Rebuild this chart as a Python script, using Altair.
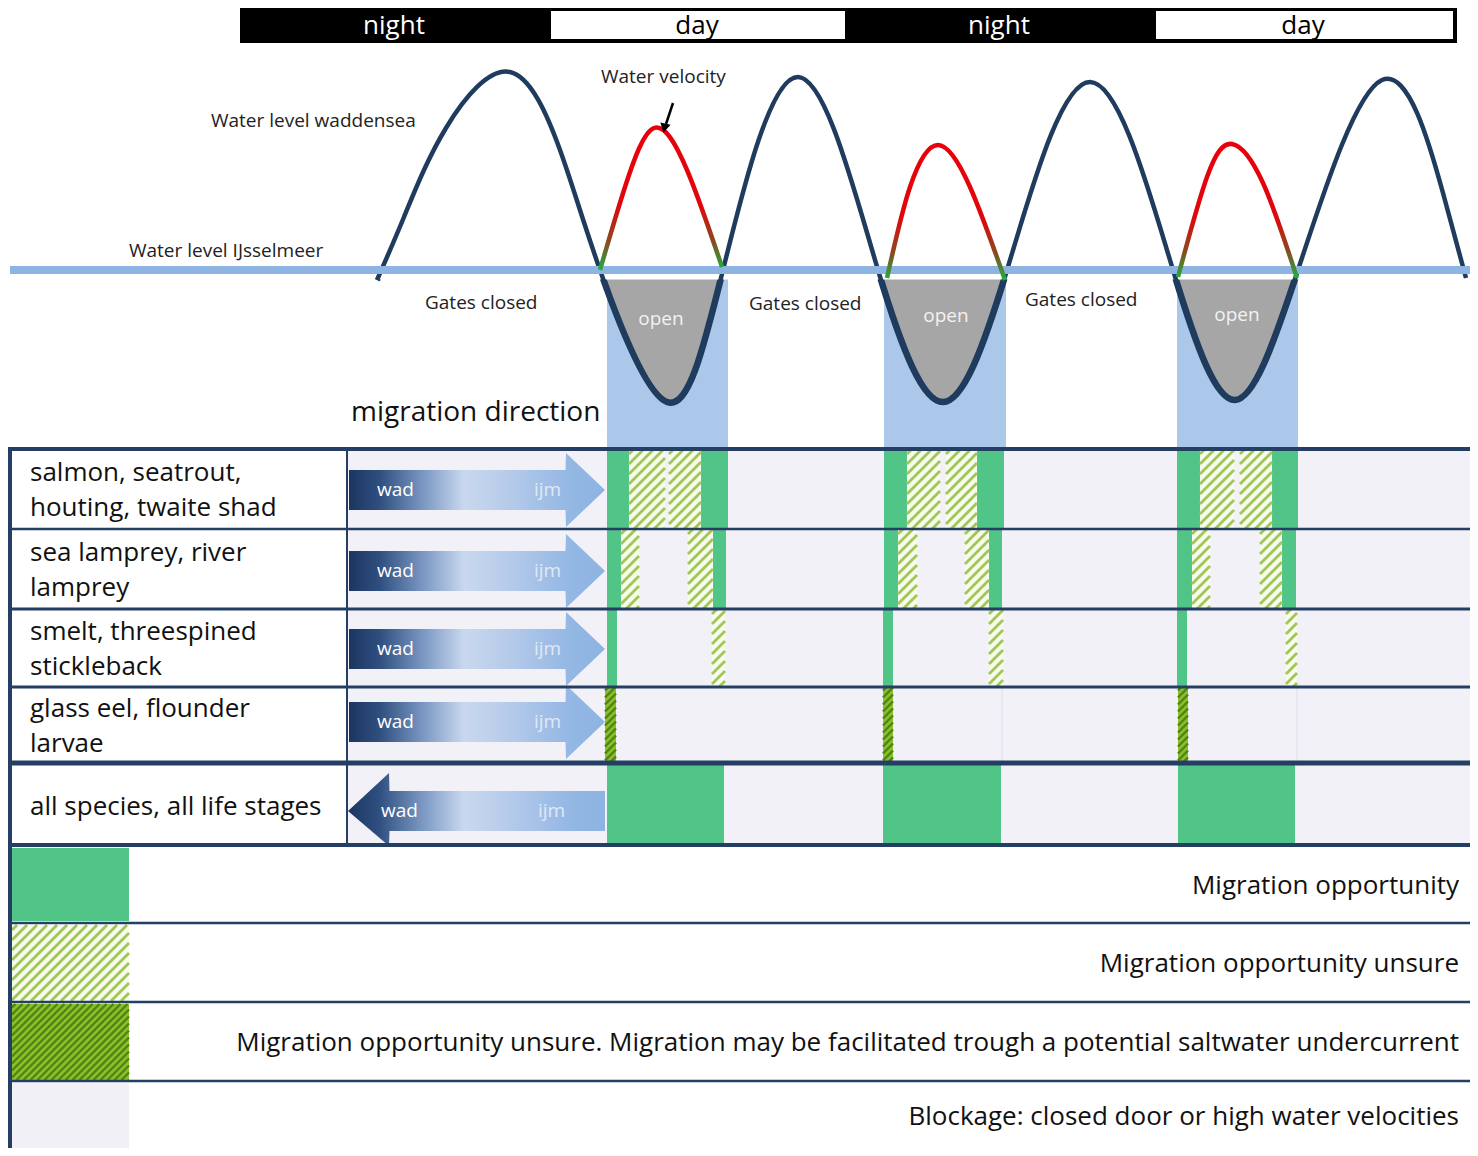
import altair as alt
import pandas as pd

# ---------------- chart values ----------------
PERIOD_NAMES = ["night", "day", "night", "day"]
PERIOD_START = [240, 549, 848, 1154]
PERIOD_END = [549, 848, 1154, 1456]
PERIOD_TEXT_X = [394, 697, 999, 1303]

# water level Waddensea: crossings of the IJsselmeer level and extremes (x, y) in picture units
WADDEN = [(377, 280), (404, 217), (446, 128), (510, 72), (560, 150), (600, 270),
          (667, 402), (723, 270), (798, 77), (878, 270),
          (943, 402), (1007, 270), (1090, 82), (1173, 270),
          (1235, 400), (1298, 270), (1382, 80), (1443, 193), (1466, 278)]
IJSSELMEER_LEVEL = 270

# water velocity arcs while the gates are open
VELOCITY_1 = [(600, 270), (625, 187), (654, 128), (687, 170), (722, 267)]
VELOCITY_2 = [(887, 278), (910, 187), (938, 145), (970, 187), (1005, 280)]
VELOCITY_3 = [(1178, 277), (1207, 177), (1232, 144), (1263, 183), (1297, 278)]

# gate-open windows (blue columns)
COLUMN_START = [607, 884, 1177]
COLUMN_END = [728, 1006, 1298]
OPEN_LABEL_X = [661, 946, 1237]
OPEN_LABEL_Y = [319, 316, 315]

GATES_CLOSED_X = [425, 749, 1025]
GATES_CLOSED_Y = [303, 304, 300]

# table rows
ROW_LABELS = [["salmon, seatrout,", "houting, twaite shad"],
              ["sea lamprey, river", "lamprey"],
              ["smelt, threespined", "stickleback"],
              ["glass eel, flounder", "larvae"],
              ["all species, all life stages"]]
ROW_TOP = [449, 529, 609, 687, 763]
ROW_BOTTOM = [529, 609, 687, 763, 845]
ARROW_DIRECTION = ["right", "right", "right", "right", "left"]
ARROW_CENTER = [490, 571, 649, 722, 811]

# migration cells: (row, start, end, kind)
CELL_ROW = [0, 0, 0, 0, 0, 0, 0, 0, 0, 0, 0, 0,
            1, 1, 1, 1, 1, 1, 1, 1, 1, 1, 1, 1,
            2, 2, 2, 2, 2, 2,
            3, 3, 3,
            4, 4, 4]
CELL_START = [607, 629, 669, 701, 884, 907, 946, 977, 1177, 1200, 1240, 1272,
              607, 621, 688, 713, 884, 898, 965, 989, 1177, 1192, 1260, 1282,
              607, 712, 883, 989, 1177, 1286,
              605, 883, 1178,
              607, 883, 1178]
CELL_END = [629, 665, 701, 728, 907, 940, 977, 1004, 1200, 1234, 1272, 1298,
            621, 639, 713, 726, 898, 917, 989, 1002, 1192, 1210, 1282, 1296,
            617, 725, 893, 1003, 1187, 1297,
            616, 893, 1188,
            724, 1001, 1295]
CELL_KIND = ["open", "unsure", "unsure", "open"] * 3 + \
            ["open", "unsure", "unsure", "open"] * 3 + \
            ["open", "unsure"] * 3 + \
            ["undercurrent"] * 3 + \
            ["open"] * 3

# legend
LEGEND_KIND = ["open", "unsure", "undercurrent", "blocked"]
LEGEND_TEXT = ["Migration opportunity",
               "Migration opportunity unsure",
               "Migration opportunity unsure. Migration may be facilitated trough a potential  saltwater undercurrent",
               "Blockage: closed door or high water velocities"]
LEGEND_TOP = [848, 925, 1004, 1083]
LEGEND_BOTTOM = [921, 1001, 1080, 1148]

# ---------------- styling ----------------
NAVY = "#1f3b5e"
GRID = "#243f63"
GREEN = "#50c587"
LAVENDER = "#f2f1f7"
FONT = "Open Sans"
CURVE = "natural"

X0, X1, Y0, Y1 = 8, 1470, 8, 1148
xs = alt.Scale(domain=[X0, X1], nice=False, zero=False)
ys = alt.Scale(domain=[Y0, Y1], nice=False, zero=False, reverse=True)


def X(f="x"):
    return alt.X(f"{f}:Q", scale=xs, axis=None)


def Y(f="y"):
    return alt.Y(f"{f}:Q", scale=ys, axis=None, stack=False)


def rects(df):
    return alt.Chart(df).mark_rect().encode(
        x=X("x"), x2="x2:Q", y=Y("y"), y2="y2:Q",
        color=alt.Color("c:N", scale=None))


def rules(df):
    return alt.Chart(df).mark_rule(strokeCap="butt").encode(
        x=X("x"), x2="x2:Q", y=Y("y"), y2="y2:Q",
        color=alt.Color("c:N", scale=None),
        strokeWidth=alt.StrokeWidth("w:Q", scale=None))


def texts(df, align="left"):
    return alt.Chart(df).mark_text(align=align, baseline="middle", font=FONT).encode(
        x=X("x"), y=Y("y"), text="t:N",
        size=alt.Size("s:Q", scale=None),
        color=alt.Color("c:N", scale=None))


def hatch(boxes, step, color, width):
    segs = []
    for (x0, x1, y0, y1) in boxes:
        c = x0 + y0 + step / 2.0
        while c < x1 + y1:
            xa = max(x0, c - y1)
            xb = min(x1, c - y0)
            if xb > xa:
                segs.append(dict(x=xa, y=c - xa, x2=xb, y2=c - xb, c=color, w=width))
            c += step
    return pd.DataFrame(segs)


HATCH_STYLE = {
    "unsure": dict(bg="#f8fbec", line="#9fc75a", step=10, width=2.8),
    "undercurrent": dict(bg="#8cc026", line="#4f8419", step=7, width=2.4),
}

wad_df = pd.DataFrame(WADDEN, columns=["x", "y"])
wad_df["y2"] = 279

layers = []

# ---- blue columns below the gates ----
layers.append(rects(pd.DataFrame([dict(x=s, x2=e, y=279, y2=449, c="#abc8ea")
                                  for s, e in zip(COLUMN_START, COLUMN_END)])))

# ---- grey 'open' troughs: fill between curve and the line, thick outline below the line ----
layers.append(alt.Chart(wad_df).mark_area(
    orient="vertical", interpolate=CURVE, color="#a6a6a6").encode(
    x=X("x"), y=Y("y"), y2="y2:Q"))
layers.append(alt.Chart(wad_df).mark_line(
    interpolate=CURVE, color=NAVY, strokeWidth=6.5).encode(x=X("x"), y=Y("y")))
# white cover above the IJsselmeer line (hides the part of the fill / thick outline above it)
layers.append(rects(pd.DataFrame([dict(x=X0, x2=X1, y=Y0, y2=279.5, c="#ffffff")])))

# ---- day / night bar ----
layers.append(rects(pd.DataFrame([dict(x=240, x2=1457, y=7, y2=43, c="#000000")])))
day_boxes = [dict(x=s + 2, x2=e - 3, y=11, y2=39, c="#ffffff")
             for n, s, e in zip(PERIOD_NAMES, PERIOD_START, PERIOD_END) if n == "day"]
layers.append(rects(pd.DataFrame(day_boxes)))
layers.append(texts(pd.DataFrame([dict(x=tx, y=25.5, t=n, s=26, c="#ffffff" if n == "night" else "#000000")
                                  for n, tx in zip(PERIOD_NAMES, PERIOD_TEXT_X)]), align="center"))

# ---- Waddensea water level ----
layers.append(alt.Chart(wad_df).mark_line(
    interpolate=CURVE, color=NAVY, strokeWidth=4.5).encode(x=X("x"), y=Y("y")))

# ---- IJsselmeer level ----
layers.append(rules(pd.DataFrame([dict(x=10, x2=1470, y=IJSSELMEER_LEVEL, y2=IJSSELMEER_LEVEL,
                                       c="#8eb4e3", w=8)])))

# ---- velocity arcs ----
vel_rows = []
for i, arc in enumerate([VELOCITY_1, VELOCITY_2, VELOCITY_3]):
    for (px, py) in arc:
        vel_rows.append(dict(id=i, x=px, y=py))
vel_grad = {"gradient": "linear", "x1": 0, "y1": 0, "x2": 0, "y2": 1,
            "stops": [{"offset": 0, "color": "#e8000b"},
                      {"offset": 0.55, "color": "#e0070b"},
                      {"offset": 0.8, "color": "#8a4a1e"},
                      {"offset": 1, "color": "#1fb040"}]}
layers.append(alt.Chart(pd.DataFrame(vel_rows)).mark_line(
    interpolate=CURVE, stroke=vel_grad, strokeWidth=4.5).encode(
    x=X("x"), y=Y("y"), detail="id:N"))

# ---- small arrow pointing at velocity ----
layers.append(rules(pd.DataFrame([dict(x=673, x2=666, y=103, y2=124, c="#000000", w=2.5)])))
layers.append(alt.Chart(pd.DataFrame([dict(x=664.5, y=128)])).mark_point(
    shape="triangle-down", size=110, filled=True, color="#000000", opacity=1, angle=12).encode(
    x=X("x"), y=Y("y")))

# ---- annotation texts top ----
top_txt = [dict(x=211, y=121, t="Water level waddensea", s=19, c="#222222"),
           dict(x=129, y=251, t="Water level IJsselmeer", s=19, c="#222222"),
           dict(x=601, y=77, t="Water velocity", s=19, c="#222222"),
           dict(x=351, y=413, t="migration direction", s=28, c="#111111")]
top_txt += [dict(x=gx, y=gy, t="Gates closed", s=19, c="#222222")
            for gx, gy in zip(GATES_CLOSED_X, GATES_CLOSED_Y)]
layers.append(texts(pd.DataFrame(top_txt)))
layers.append(texts(pd.DataFrame([dict(x=ox, y=oy, t="open", s=19, c="#f2f2f2")
                                  for ox, oy in zip(OPEN_LABEL_X, OPEN_LABEL_Y)]), align="center"))

# ---- table background ----
layers.append(rects(pd.DataFrame([dict(x=X0, x2=X1, y=ROW_TOP[0], y2=Y1, c="#ffffff")])))
layers.append(rects(pd.DataFrame([dict(x=347, x2=1470, y=ROW_TOP[0], y2=ROW_BOTTOM[-1], c=LAVENDER)])))

# ---- migration cells ----
cell_bg = []
hatch_boxes = {"unsure": [], "undercurrent": []}
for r, s, e, k in zip(CELL_ROW, CELL_START, CELL_END, CELL_KIND):
    top, bot = ROW_TOP[r], ROW_BOTTOM[r]
    if k == "open":
        cell_bg.append(dict(x=s, x2=e, y=top, y2=bot, c=GREEN))
    else:
        cell_bg.append(dict(x=s, x2=e, y=top, y2=bot, c=HATCH_STYLE[k]["bg"]))
        hatch_boxes[k].append((s, e, top, bot))
# legend boxes
for k, t, b in zip(LEGEND_KIND, LEGEND_TOP, LEGEND_BOTTOM):
    if k == "open":
        cell_bg.append(dict(x=12, x2=129, y=t, y2=b, c=GREEN))
    elif k == "blocked":
        cell_bg.append(dict(x=12, x2=129, y=t, y2=b, c="#f1f0f6"))
    else:
        cell_bg.append(dict(x=12, x2=129, y=t, y2=b, c=HATCH_STYLE[k]["bg"]))
        hatch_boxes[k].append((12, 129, t, b))
layers.append(rects(pd.DataFrame(cell_bg)))
for k, boxes in hatch_boxes.items():
    st = HATCH_STYLE[k]
    layers.append(rules(hatch(boxes, st["step"], st["line"], st["width"])))

# faint separators in glass-eel row
layers.append(rules(pd.DataFrame([dict(x=vx, x2=vx, y=ROW_TOP[3], y2=ROW_BOTTOM[3], c="#dedde8", w=1)
                                  for vx in [1002, 1297]])))

# ---- direction arrows ----
arrow_rows = []
for i, (d, cy) in enumerate(zip(ARROW_DIRECTION, ARROW_CENTER)):
    if d == "right":
        pts = [(349, cy - 20, cy + 20), (565.5, cy - 20, cy + 20), (566, cy - 37, cy + 37), (605, cy, cy)]
    else:
        pts = [(348, cy, cy), (389, cy - 38, min(cy + 38, 846)), (389.5, cy - 20, cy + 20), (605, cy - 20, cy + 20)]
    for (px, pt, pb) in pts:
        arrow_rows.append(dict(id=i, x=px, y=pt, y2=pb))
arrow_grad = {"gradient": "linear", "x1": 0, "y1": 0, "x2": 1, "y2": 0,
              "stops": [{"offset": 0, "color": "#1c3560"},
                        {"offset": 0.12, "color": "#2f4f80"},
                        {"offset": 0.3, "color": "#7f9cc6"},
                        {"offset": 0.45, "color": "#c9d8ee"},
                        {"offset": 0.62, "color": "#b6cbea"},
                        {"offset": 0.85, "color": "#95b8e4"},
                        {"offset": 1, "color": "#8db3e2"}]}
layers.append(alt.Chart(pd.DataFrame(arrow_rows)).mark_area(
    orient="vertical", fill=arrow_grad).encode(x=X("x"), y=Y("y"), y2="y2:Q", detail="id:N"))
arrow_txt = []
for d, cy in zip(ARROW_DIRECTION, ARROW_CENTER):
    off = 0 if d == "right" else 4
    arrow_txt.append(dict(x=377 + off, y=cy, t="wad", s=19, c="#ffffff"))
    arrow_txt.append(dict(x=534 + off, y=cy, t="ijm", s=19, c="#e2e9f5"))
layers.append(texts(pd.DataFrame(arrow_txt)))

# ---- grid lines ----
grid = [dict(x=8, x2=1470, y=449, y2=449, w=4),
        dict(x=10, x2=1470, y=529, y2=529, w=2.5),
        dict(x=10, x2=1470, y=609, y2=609, w=3),
        dict(x=10, x2=1470, y=687, y2=687, w=3.2),
        dict(x=8, x2=1470, y=763, y2=763, w=5),
        dict(x=8, x2=1470, y=845, y2=845, w=4),
        dict(x=10, x2=1470, y=923, y2=923, w=2.5),
        dict(x=10, x2=1470, y=1002, y2=1002, w=2.5),
        dict(x=10, x2=1470, y=1081, y2=1081, w=2.5),
        dict(x=10, x2=10, y=447, y2=1148, w=4),
        dict(x=347, x2=347, y=449, y2=845, w=2)]
g = pd.DataFrame(grid)
g["c"] = GRID
layers.append(rules(g))

# ---- row labels ----
lab = []
for lines, t, b in zip(ROW_LABELS, ROW_TOP, ROW_BOTTOM):
    mid = (t + b) / 2.0
    if len(lines) == 2:
        lab.append(dict(x=30, y=mid - 16, t=lines[0], s=26, c="#111111"))
        lab.append(dict(x=30, y=mid + 19, t=lines[1], s=26, c="#111111"))
    else:
        lab.append(dict(x=30, y=mid + 3, t=lines[0], s=26, c="#111111"))
layers.append(texts(pd.DataFrame(lab)))

# ---- legend texts ----
leg = [dict(x=1459, y=(t + b) / 2.0 + 1, t=txt, s=26, c="#111111")
       for txt, t, b in zip(LEGEND_TEXT, LEGEND_TOP, LEGEND_BOTTOM)]
layers.append(texts(pd.DataFrame(leg), align="right"))

chart = alt.layer(*layers).properties(
    width=X1 - X0, height=Y1 - Y0, padding=0, autosize="none", background="#ffffff"
).configure_view(stroke="transparent")

chart.save("out.html", embed_options={"renderer": "svg", "actions": False})
